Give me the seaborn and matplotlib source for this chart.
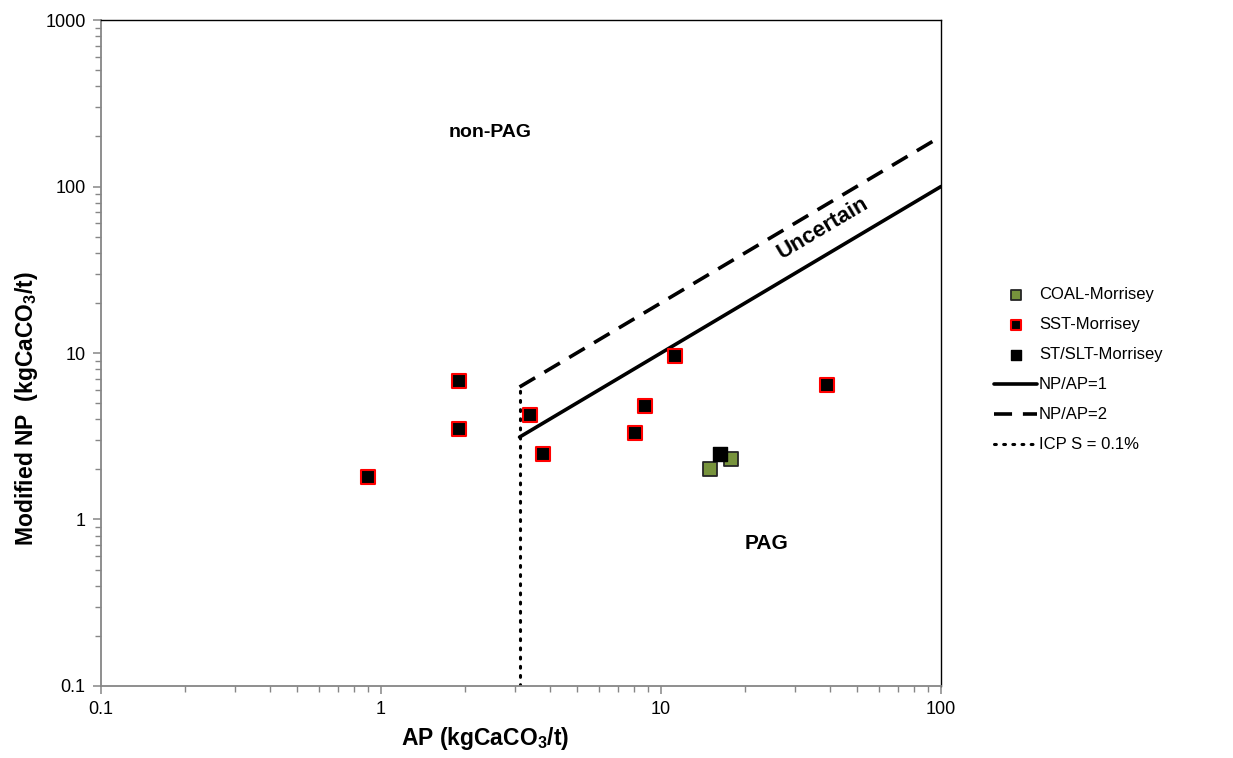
import matplotlib
matplotlib.use("Agg")
import matplotlib.pyplot as plt
import matplotlib.ticker as mticker
import seaborn as sns
import pandas as pd

sns.set_theme(style="white")
plt.rcParams["font.family"] = ["Liberation Sans", "DejaVu Sans"]
plt.rcParams["text.color"] = "black"
plt.rcParams["axes.labelcolor"] = "black"
plt.rcParams["xtick.color"] = "black"
plt.rcParams["ytick.color"] = "black"

# Sample results (AP vs modified NP, kgCaCO3/t)
coal_ap = [15.0, 17.8]
coal_np = [2.01, 2.31]

sst_ap = [0.90, 1.90, 1.90, 3.41, 3.79, 8.07, 8.77, 11.2, 39.1]
sst_np = [1.80, 6.79, 3.50, 4.25, 2.47, 3.31, 4.81, 9.6, 6.43]

stslt_ap = [16.3]
stslt_np = [2.47]

# Screening criteria lines
ratio_ap = [3.125, 100.0]
ratio1_np = [3.125, 100.0]
ratio2_np = [6.25, 200.0]
icp_ap = [3.125, 3.125]
icp_np = [0.1, 6.25]

fig = plt.figure(figsize=(12.33, 7.58), dpi=100)
ax = fig.add_axes([0.0819, 0.095, 0.6813, 0.8786])

coal = pd.DataFrame({"AP": coal_ap, "NP": coal_np})
sst = pd.DataFrame({"AP": sst_ap, "NP": sst_np})
stslt = pd.DataFrame({"AP": stslt_ap, "NP": stslt_np})

sns.lineplot(x=ratio_ap, y=ratio1_np, ax=ax, color="black", lw=2.6,
             label="NP/AP=1", legend=False)
sns.lineplot(x=ratio_ap, y=ratio2_np, ax=ax, color="black", lw=2.6,
             label="NP/AP=2", legend=False)
ax.lines[-1].set_dashes([5, 3])
sns.lineplot(x=icp_ap, y=icp_np, ax=ax, color="black", lw=2.2,
             label="ICP S = 0.1%", legend=False, estimator=None, sort=False)
ax.lines[-1].set_dashes([0.6, 2.4])
ax.lines[-1].set_dash_capstyle("round")

sns.scatterplot(data=coal, x="AP", y="NP", ax=ax, marker="s", s=95,
                color="#77933C", edgecolor="#262626", linewidth=1.3,
                label="COAL-Morrisey", zorder=4)
sns.scatterplot(data=sst, x="AP", y="NP", ax=ax, marker="s", s=95,
                color="black", edgecolor="#FF0000", linewidth=1.5,
                label="SST-Morrisey", zorder=4)
sns.scatterplot(data=stslt, x="AP", y="NP", ax=ax, marker="s", s=95,
                color="black", edgecolor="black", linewidth=1.0,
                label="ST/SLT-Morrisey", zorder=5)

ax.set_xscale("log")
ax.set_yscale("log")
ax.set_xlim(0.1, 100)
ax.set_ylim(0.1, 1000)

ax.xaxis.set_major_locator(mticker.LogLocator(base=10))
ax.yaxis.set_major_locator(mticker.LogLocator(base=10))
ax.xaxis.set_minor_locator(mticker.LogLocator(base=10, subs=range(2, 10)))
ax.yaxis.set_minor_locator(mticker.LogLocator(base=10, subs=range(2, 10)))
fmt = mticker.FuncFormatter(lambda v, p: f"{v:g}")
ax.xaxis.set_major_formatter(fmt)
ax.yaxis.set_major_formatter(fmt)
ax.xaxis.set_minor_formatter(mticker.NullFormatter())
ax.yaxis.set_minor_formatter(mticker.NullFormatter())

gray = "#868686"
for side in ("left", "bottom"):
    ax.spines[side].set_color(gray)
    ax.spines[side].set_linewidth(1.3)
for side in ("top", "right"):
    ax.spines[side].set_color("black")
    ax.spines[side].set_linewidth(1.0)

ax.tick_params(axis="both", which="major", direction="out", length=6,
               width=1.1, color=gray, labelsize=13, pad=5,
               labelcolor="black", bottom=True, left=True)
ax.tick_params(axis="both", which="minor", direction="out", length=4,
               width=1.0, color=gray, bottom=True, left=True)

ax.set_xlabel(r"AP (kgCaCO$_\mathregular{3}$/t)", fontsize=16.5,
              fontweight="bold")
ax.xaxis.set_label_coords(0.457, -0.058)
ax.set_ylabel(r"Modified $\mathregular{NP}$  (kgCaCO$_\mathregular{3}$/t)",
              fontsize=16.5, fontweight="bold")
ax.yaxis.set_label_coords(-0.072, 0.417)

ax.text(2.45, 212, "non-PAG", fontsize=14, fontweight="bold",
        ha="center", va="center")
ax.text(23.9, 0.72, "PAG", fontsize=15, fontweight="bold",
        ha="center", va="center")
ax.text(37.9, 56.4, "Uncertain", fontsize=16, fontweight="bold",
        ha="center", va="center", rotation=30.7, rotation_mode="anchor")

handles, labels = ax.get_legend_handles_labels()
if ax.get_legend() is not None:
    ax.get_legend().remove()
order = ["COAL-Morrisey", "SST-Morrisey", "ST/SLT-Morrisey",
         "NP/AP=1", "NP/AP=2", "ICP S = 0.1%"]
hmap = dict(zip(labels, handles))
leg = fig.legend([hmap[k] for k in order], order, loc="center left",
                 bbox_to_anchor=(0.794, 0.512), frameon=False, fontsize=12,
                 handlelength=2.6, handletextpad=0.1, labelspacing=0.9,
                 markerscale=0.75)

fig.savefig("out.png", dpi=100)
